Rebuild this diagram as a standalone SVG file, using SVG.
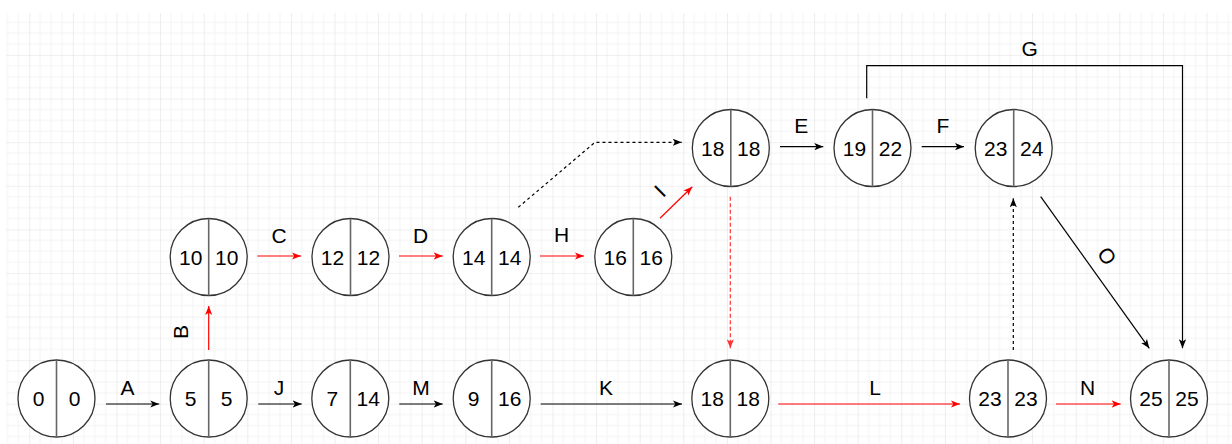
<svg xmlns="http://www.w3.org/2000/svg" width="1232" height="444" viewBox="0 0 1232 444">
<style>
.c{fill:#fff;stroke:#333;stroke-width:1.3}
.dv{stroke:#666;stroke-width:1.6}
.t{font-family:"Liberation Sans",Arial,sans-serif;font-size:21px;fill:#000;text-anchor:middle}
.e{fill:none;stroke:#000;stroke-width:1.2}
.r{fill:none;stroke:#ff0000;stroke-width:1.2}
.dash{stroke-dasharray:3 3}
.rdash{stroke-dasharray:4 2.5;stroke:#ff3333}
</style>
<defs>
<pattern id="grid" x="29.3" y="55" width="43.6" height="43.6" patternUnits="userSpaceOnUse">
<path d="M10.9,0V43.6M21.8,0V43.6M32.7,0V43.6M0,10.9H43.6M0,21.8H43.6M0,32.7H43.6" stroke="#f3f3f3" stroke-width="1" fill="none"/>
<path d="M0,0V43.6M0,0H43.6" stroke="#e2e2e2" stroke-width="1.2" fill="none"/>
</pattern>
<marker id="ab" viewBox="0 0 10 8" refX="10" refY="4" markerWidth="9" markerHeight="7.5" markerUnits="userSpaceOnUse" orient="auto">
<path d="M0,0L10,4L0,8L2.5,4Z" fill="#000"/>
</marker>
<marker id="ar" viewBox="0 0 10 8" refX="10" refY="4" markerWidth="9" markerHeight="7.5" markerUnits="userSpaceOnUse" orient="auto">
<path d="M0,0L10,4L0,8L2.5,4Z" fill="#ff0000"/>
</marker>
<marker id="ar2" viewBox="0 0 10 8" refX="10" refY="4" markerWidth="9" markerHeight="7.5" markerUnits="userSpaceOnUse" orient="auto">
<path d="M0,0L10,4L0,8L2.5,4Z" fill="#ff3333"/>
</marker>
</defs>
<rect width="1232" height="444" fill="#fff"/>
<rect x="6" y="13" width="1226" height="431" fill="url(#grid)"/>

<g id="connectors">
<path class="e" d="M106,404H159.3" marker-end="url(#ab)"/>
<path class="e" d="M258.3,404H301.7" marker-end="url(#ab)"/>
<path class="e" d="M399.3,404H442.7" marker-end="url(#ab)"/>
<path class="e" d="M540.7,404H682" marker-end="url(#ab)"/>
<path class="r" d="M778.3,404H960" marker-end="url(#ar)"/>
<path class="r" d="M1056,404H1120.7" marker-end="url(#ar)"/>
<path class="r" d="M208.7,350V306" marker-end="url(#ar)"/>
<path class="r" d="M257.3,256H301" marker-end="url(#ar)"/>
<path class="r" d="M399,256H442.7" marker-end="url(#ar)"/>
<path class="r" d="M540,256H584" marker-end="url(#ar)"/>
<path class="r" d="M660,218.3L692.3,186.7" marker-end="url(#ar)"/>
<path class="e dash" d="M518.3,207.3L595,142.3H681.7" marker-end="url(#ab)"/>
<path class="e" d="M780,146.7H823.3" marker-end="url(#ab)"/>
<path class="e" d="M921.7,146.7H964" marker-end="url(#ab)"/>
<path class="e" d="M866.7,98.3V65.7H1182.5V348.3" marker-end="url(#ab)"/>
<path class="e" d="M1040.7,196.7L1149.3,348.3" marker-end="url(#ab)"/>
<path class="e dash" d="M1013.3,350V198.3" marker-end="url(#ab)"/>
<path class="r rdash" d="M730.3,196.7V348.3" marker-end="url(#ar2)"/>
<text class="t" x="127.5" y="395">A</text>
<text class="t" x="279" y="395">J</text>
<text class="t" x="421" y="395">M</text>
<text class="t" x="606" y="395">K</text>
<text class="t" x="875" y="395">L</text>
<text class="t" x="1087.5" y="395">N</text>
<text class="t" x="279" y="242.7">C</text>
<text class="t" x="420.5" y="242.7">D</text>
<text class="t" x="561.7" y="241.7">H</text>
<text class="t" x="801.3" y="133.3">E</text>
<text class="t" x="943" y="133.3">F</text>
<text class="t" x="1029.7" y="56">G</text>
<text class="t" transform="translate(180.5,332) rotate(-90)" dy="7.5">B</text>
<text class="t" transform="translate(659.7,190.8) rotate(-45)" dy="7.5">I</text>
<text class="t" transform="translate(1107,256) rotate(54)" dy="7.5">O</text>
</g>

<g id="n1"><circle class="c" cx="56.5" cy="398.5" r="38.5"/><line class="dv" x1="56.5" y1="360" x2="56.5" y2="437"/><text class="t" x="38.5" y="406">0</text><text class="t" x="74.5" y="406">0</text></g>
<g id="n2"><circle class="c" cx="208.7" cy="398.5" r="38.5"/><line class="dv" x1="208.7" y1="360" x2="208.7" y2="437"/><text class="t" x="190.7" y="406">5</text><text class="t" x="226.7" y="406">5</text></g>
<g id="n3"><circle class="c" cx="350.3" cy="398.5" r="38.5"/><line class="dv" x1="350.3" y1="360" x2="350.3" y2="437"/><text class="t" x="332.3" y="406">7</text><text class="t" x="368.3" y="406">14</text></g>
<g id="n4"><circle class="c" cx="491.7" cy="398.5" r="38.5"/><line class="dv" x1="491.7" y1="360" x2="491.7" y2="437"/><text class="t" x="473.7" y="406">9</text><text class="t" x="509.7" y="406">16</text></g>
<g id="n5"><circle class="c" cx="730.3" cy="398.5" r="38.5"/><line class="dv" x1="730.3" y1="360" x2="730.3" y2="437"/><text class="t" x="712.3" y="406">18</text><text class="t" x="748.3" y="406">18</text></g>
<g id="n6"><circle class="c" cx="1008" cy="398.5" r="38.5"/><line class="dv" x1="1008" y1="360" x2="1008" y2="437"/><text class="t" x="990" y="406">23</text><text class="t" x="1026" y="406">23</text></g>
<g id="n7"><circle class="c" cx="1169" cy="398.5" r="38.5"/><line class="dv" x1="1169" y1="360" x2="1169" y2="437"/><text class="t" x="1151" y="406">25</text><text class="t" x="1187" y="406">25</text></g>
<g id="n8"><circle class="c" cx="208.7" cy="257" r="38.5"/><line class="dv" x1="208.7" y1="218.5" x2="208.7" y2="295.5"/><text class="t" x="190.7" y="264.5">10</text><text class="t" x="226.7" y="264.5">10</text></g>
<g id="n9"><circle class="c" cx="350.5" cy="257" r="38.5"/><line class="dv" x1="350.5" y1="218.5" x2="350.5" y2="295.5"/><text class="t" x="332.5" y="264.5">12</text><text class="t" x="368.5" y="264.5">12</text></g>
<g id="n10"><circle class="c" cx="491.7" cy="257" r="38.5"/><line class="dv" x1="491.7" y1="218.5" x2="491.7" y2="295.5"/><text class="t" x="473.7" y="264.5">14</text><text class="t" x="509.7" y="264.5">14</text></g>
<g id="n11"><circle class="c" cx="633.3" cy="257" r="38.5"/><line class="dv" x1="633.3" y1="218.5" x2="633.3" y2="295.5"/><text class="t" x="615.3" y="264.5">16</text><text class="t" x="651.3" y="264.5">16</text></g>
<g id="n12"><circle class="c" cx="730.8" cy="148" r="38.5"/><line class="dv" x1="730.8" y1="109.5" x2="730.8" y2="186.5"/><text class="t" x="712.8" y="155.5">18</text><text class="t" x="748.8" y="155.5">18</text></g>
<g id="n13"><circle class="c" cx="872.5" cy="148" r="38.5"/><line class="dv" x1="872.5" y1="109.5" x2="872.5" y2="186.5"/><text class="t" x="854.5" y="155.5">19</text><text class="t" x="890.5" y="155.5">22</text></g>
<g id="n14"><circle class="c" cx="1013.7" cy="148" r="38.5"/><line class="dv" x1="1013.7" y1="109.5" x2="1013.7" y2="186.5"/><text class="t" x="995.7" y="155.5">23</text><text class="t" x="1031.7" y="155.5">24</text></g>
</svg>
